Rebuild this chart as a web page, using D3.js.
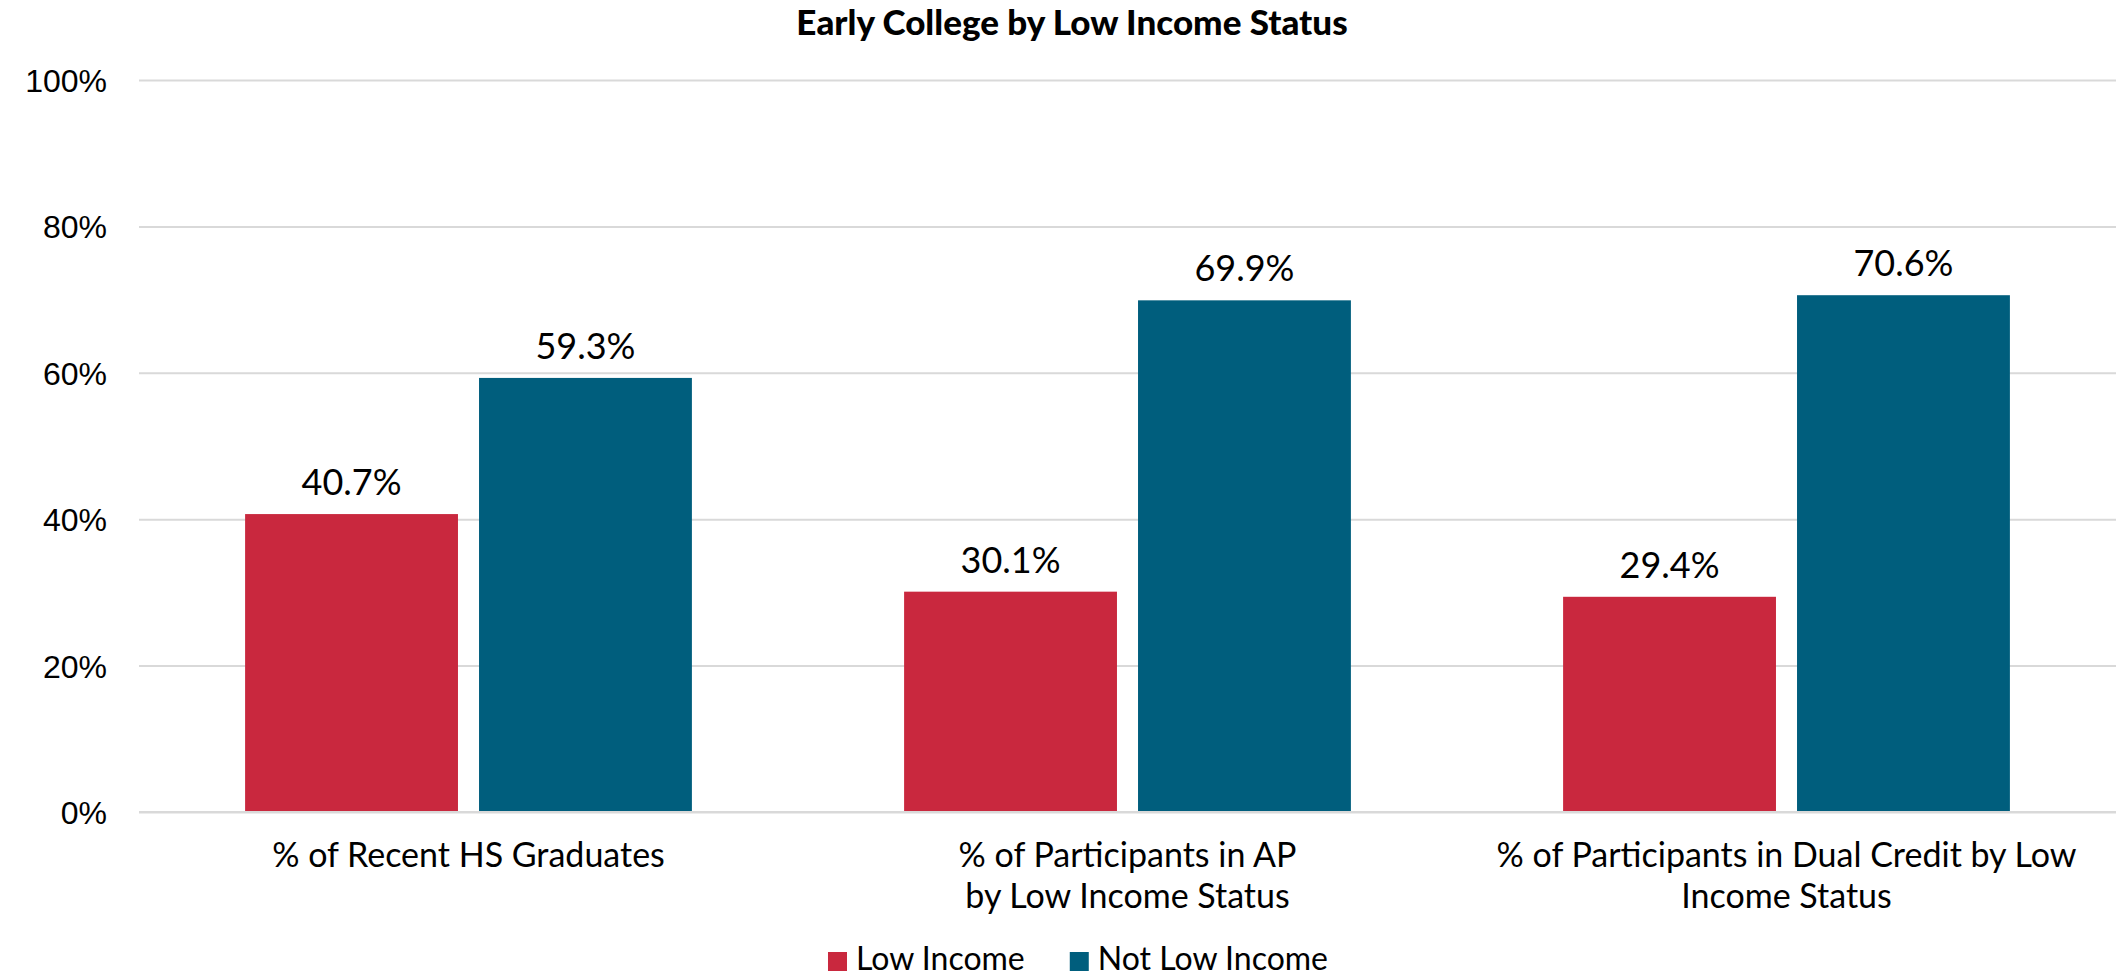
<!DOCTYPE html>
<html>
<head>
<meta charset="utf-8">
<script src="https://cdn.jsdelivr.net/npm/d3@7"></script>
<style>
  html, body { margin: 0; padding: 0; background: #ffffff; }
  svg { display: block; font-family: Lato, "Noto Sans", sans-serif; }
</style>
</head>
<body>
<svg id="chart" width="2121" height="977"></svg>
<script>
// Chart data
const title = "Early College by Low Income Status";
const categories = [
  ["% of Recent HS Graduates"],
  ["% of Participants in AP", "by Low Income Status"],
  ["% of Participants in Dual Credit by Low", "Income Status"]
];
const seriesNames = ["Low Income", "Not Low Income"];
const seriesColors = ["#C9283E", "#005E7D"];
const lowIncome = [40.7, 30.1, 29.4];
const notLowIncome = [59.3, 69.9, 70.6];
const yTicks = [0, 20, 40, 60, 80, 100];

const seriesValues = [lowIncome, notLowIncome];
const catKeys = categories.map(c => c.join(" "));

const svg = d3.select("#chart");
const plot = { left: 139, right: 2116, top: 80, bottom: 812 };

const x0 = d3.scaleBand()
  .domain(catKeys)
  .range([plot.left, plot.right])
  .paddingInner(0.322)
  .paddingOuter(0.161);

const x1 = d3.scaleBand()
  .domain(seriesNames)
  .range([0, x0.bandwidth()])
  .paddingInner(0.09);

const y = d3.scaleLinear().domain([0, 100]).range([plot.bottom, plot.top]);

// Gridlines and y tick labels
const yAxis = d3.axisLeft(y)
  .tickValues(yTicks)
  .tickFormat(d => d + "%")
  .tickSize(-(plot.right - plot.left))
  .tickPadding(32);

const gy = svg.append("g")
  .attr("transform", `translate(${plot.left},0)`)
  .call(yAxis);
gy.select(".domain").remove();
gy.selectAll(".tick line").attr("stroke", "#D9D9D9").attr("stroke-width", 2);
gy.selectAll(".tick text")
  .attr("fill", "#000")
  .style("font-size", "32px")
  .attr("dy", "0.36em");

// Bars
const groups = svg.append("g").selectAll("g")
  .data(catKeys)
  .join("g")
  .attr("transform", d => `translate(${x0(d)},0)`);

groups.selectAll("rect")
  .data((d, i) => seriesNames.map((s, j) => ({ s, v: seriesValues[j][i], c: seriesColors[j] })))
  .join("rect")
  .attr("x", d => x1(d.s))
  .attr("width", x1.bandwidth())
  .attr("y", d => y(d.v))
  .attr("height", d => y(0) - y(d.v))
  .attr("fill", d => d.c);

// Value labels
groups.selectAll("text.val")
  .data((d, i) => seriesNames.map((s, j) => ({ s, v: seriesValues[j][i] })))
  .join("text")
  .attr("class", "val")
  .attr("x", d => x1(d.s) + x1.bandwidth() / 2)
  .attr("y", d => y(d.v) - 19)
  .attr("text-anchor", "middle")
  .style("font-size", "36px")
  .attr("fill", "#000")
  .text(d => d.v.toFixed(1) + "%");

// Baseline axis
svg.append("line")
  .attr("x1", plot.left).attr("x2", plot.right)
  .attr("y1", y(0)).attr("y2", y(0))
  .attr("stroke", "#D9D9D9").attr("stroke-width", 2);

// Category labels
const catLabels = svg.append("g").selectAll("text")
  .data(categories)
  .join("text")
  .attr("text-anchor", "middle")
  .style("font-size", "34px")
  .attr("fill", "#000")
  .attr("transform", (d, i) => `translate(${x0(catKeys[i]) + x0.bandwidth() / 2},${plot.bottom + 55})`);
catLabels.selectAll("tspan")
  .data(d => d)
  .join("tspan")
  .attr("x", 0)
  .attr("y", (d, i) => i * 41)
  .text(d => d);

// Title
svg.append("text")
  .attr("x", 1072)
  .attr("y", 35)
  .attr("text-anchor", "middle")
  .style("font-size", "35px")
  .style("font-weight", "900")
  .attr("fill", "#000")
  .text(title);

// Legend
const legend = svg.append("g");
const items = legend.selectAll("g")
  .data(seriesNames)
  .join("g");
items.append("rect")
  .attr("width", 19).attr("height", 19)
  .attr("y", -18)
  .attr("fill", (d, i) => seriesColors[i]);
items.append("text")
  .attr("x", 28)
  .style("font-size", "32px")
  .attr("fill", "#000")
  .text(d => d);
let offset = 0;
const widths = [];
items.each(function () { widths.push(this.getBBox().width); });
items.attr("transform", (d, i) => {
  const t = `translate(${offset},0)`;
  offset += widths[i] + 45;
  return t;
});
const legendWidth = offset - 45;
legend.attr("transform", `translate(${1078 - legendWidth / 2},970)`);
</script>
</body>
</html>
